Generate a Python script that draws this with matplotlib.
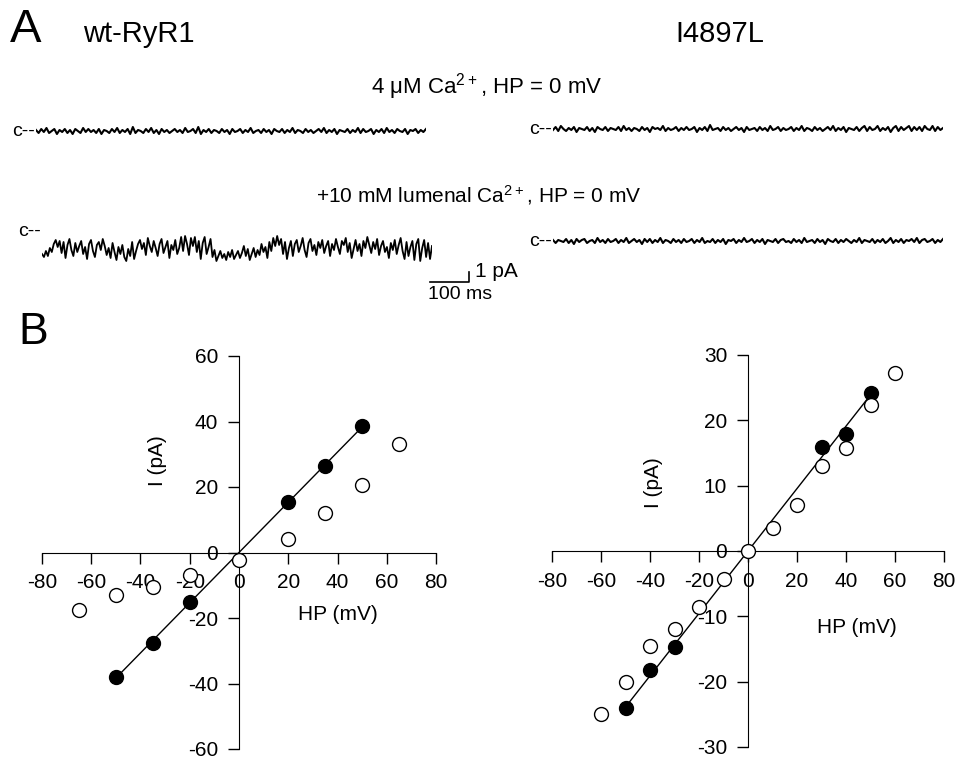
import numpy as np
import matplotlib
matplotlib.use("Agg")
import matplotlib.pyplot as plt

plt.rcParams['font.family'] = ['Liberation Sans', 'DejaVu Sans']
plt.rcParams['mathtext.default'] = 'regular'
plt.rcParams['axes.unicode_minus'] = False

# single-channel traces, current in pA relative to the closed level
trace_ms = 1000.0
wt_4uM = [0.1, -0.2, 0.2, -0.1, 0.3, -0.2, 0.0, 0.2, -0.3, 0.1,
          -0.1, 0.2, -0.2, 0.1, -0.3, 0.2, 0.0, -0.2, 0.3, -0.1,
          0.2, -0.1, 0.1, -0.2, 0.2, -0.3, 0.1, 0.0, -0.2, 0.2,
          -0.1, 0.3, -0.2, 0.1, -0.1, 0.2, -0.3, 0.4, -0.2, 0.1,
          0.0, -0.2, 0.2, -0.1, 0.3, -0.2, 0.1, -0.3, 0.2, -0.1,
          0.1, -0.2, 0.0, 0.2, -0.1, 0.1, -0.2, 0.3, -0.1, 0.0,
          0.2, -0.2, 0.4, -0.3, 0.1, -0.1, 0.2, -0.2, 0.1, 0.0,
          -0.2, 0.2, -0.1, 0.1, -0.3, 0.2, -0.1, 0.0, 0.2, -0.2,
          0.1, -0.1, 0.3, -0.2, 0.0, 0.1, -0.2, 0.2, -0.1, 0.1,
          -0.3, 0.2, 0.0, -0.1, 0.2, -0.2, 0.1, -0.1, 0.3, -0.2,
          0.1, 0.0, -0.2, 0.2, -0.1, 0.1, -0.2, 0.0, 0.2, -0.1,
          0.3, -0.2, 0.1, -0.1, 0.2, -0.3, 0.1, 0.0, -0.1, 0.2,
          -0.2, 0.1, -0.1, 0.3, -0.2, 0.2, -0.1, 0.0, 0.2, -0.3,
          0.1, -0.1, 0.2, -0.2, 0.3, -0.1, 0.1, -0.2, 0.2, 0.0,
          -0.1, 0.2, -0.3, 0.1, 0.0, 0.2, -0.2, 0.1, -0.1, 0.2]
wt_lumenal = [-2.2, -2.5, -1.9, -2.4, -1.6, -2.0, -1.2, -0.8, -1.5, -0.9,
              -2.1, -1.0, -2.6, -1.3, -0.7, -1.8, -2.4, -1.1, -2.0, -1.4,
              -0.9, -2.2, -1.5, -2.7, -1.2, -0.8, -1.9, -2.5, -1.3, -1.0,
              -1.8, -0.7, -1.4, -2.3, -1.6, -2.6, -1.1, -2.0, -2.8, -1.5,
              -2.2, -1.3, -2.5, -2.9, -1.7, -2.4, -1.0, -2.7, -1.9, -1.2,
              -0.8, -1.7, -1.1, -2.3, -0.6, -1.4, -2.0, -0.9, -1.6, -2.4,
              -1.2, -0.7, -2.1, -1.5, -0.9, -2.6, -1.3, -1.8, -0.8, -2.2,
              -1.6, -0.5, -1.9, -0.4, -1.2, -2.3, -0.6, -1.4, -0.5, -2.0,
              -0.9, -2.7, -1.1, -0.5, -2.2, -1.5, -0.7, -2.5, -1.8, -2.9,
              -2.4, -1.9, -2.6, -2.2, -2.8, -2.0, -2.5, -1.8, -2.7, -2.3,
              -1.9, -2.6, -2.1, -1.4, -2.4, -1.7, -2.8, -2.2, -1.6, -2.5,
              -1.8, -2.3, -1.2, -2.0, -1.5, -2.6, -1.0, -1.9, -0.6, -1.4,
              -0.4, -1.3, -0.7, -2.2, -1.0, -2.7, -1.6, -0.9, -2.4, -1.2,
              -0.8, -2.0, -1.4, -0.6, -1.8, -2.5, -1.1, -0.7, -1.9, -1.3,
              -2.3, -1.0, -1.6, -0.8, -2.1, -1.4, -0.9, -2.4, -1.2, -1.8,
              -0.7, -1.5, -2.2, -0.9, -1.3, -0.6, -2.0, -1.1, -2.6, -1.7,
              -0.8, -1.9, -1.2, -2.4, -0.9, -1.6, -0.5, -1.3, -2.1, -1.0,
              -1.7, -0.7, -2.3, -1.4, -0.9, -2.0, -1.5, -2.6, -1.1, -1.8,
              -0.8, -2.2, -1.3, -0.6, -1.9, -2.7, -1.0, -2.4, -1.5, -0.9,
              -2.8, -1.2, -0.7, -2.9, -1.6, -0.8, -2.5, -1.1, -2.7, -1.4]
mut_4uM = [-0.1, 0.2, -0.2, 0.3, 0.0, -0.2, 0.1, -0.1, 0.2, -0.3,
           0.1, 0.0, -0.1, 0.2, -0.2, 0.1, -0.3, 0.2, 0.0, -0.1,
           0.2, -0.2, 0.1, 0.0, -0.1, 0.2, -0.2, 0.3, -0.1, 0.1,
           -0.2, 0.1, 0.0, -0.2, 0.2, -0.1, 0.1, -0.3, 0.2, 0.0,
           0.1, -0.1, 0.3, -0.2, 0.1, -0.1, 0.0, 0.2, -0.2, 0.1,
           -0.1, 0.2, -0.1, 0.0, 0.2, -0.3, 0.1, -0.1, 0.2, -0.2,
           0.4, -0.1, 0.0, 0.1, -0.2, 0.2, -0.1, 0.1, -0.2, 0.0,
           0.2, -0.1, 0.1, -0.3, 0.2, -0.1, 0.0, 0.1, -0.2, 0.2,
           -0.1, 0.1, -0.2, 0.3, -0.1, 0.0, 0.2, -0.2, 0.1, -0.1,
           0.0, 0.2, -0.2, 0.1, -0.1, 0.3, -0.2, 0.1, 0.0, -0.2,
           0.2, -0.1, 0.1, -0.2, 0.0, 0.2, -0.1, 0.3, -0.2, 0.1,
           -0.1, 0.2, -0.3, 0.1, 0.0, -0.1, 0.2, -0.2, 0.1, 0.3,
           -0.2, 0.2, -0.1, 0.0, 0.3, -0.2, 0.1, -0.1, 0.2, -0.3,
           0.1, 0.3, -0.2, 0.2, -0.1, 0.1, 0.3, -0.2, 0.2, -0.1,
           0.2, -0.2, 0.3, 0.0, -0.1, 0.3, -0.2, 0.2, -0.1, 0.1]
mut_lumenal = [0.1, -0.2, 0.1, 0.0, -0.1, 0.2, -0.2, 0.1, -0.3, 0.2,
               -0.1, 0.1, 0.2, -0.2, 0.0, 0.1, -0.2, 0.3, -0.1, 0.1,
               -0.2, 0.2, -0.1, 0.0, 0.2, -0.2, 0.1, -0.1, 0.3, -0.2,
               0.0, 0.2, -0.1, 0.1, -0.3, 0.2, -0.1, 0.2, -0.2, 0.1,
               -0.1, 0.3, -0.2, 0.1, 0.0, -0.2, 0.2, -0.1, 0.1, -0.2,
               0.2, -0.1, 0.0, 0.2, -0.2, 0.1, -0.1, 0.3, -0.2, 0.0,
               -0.1, 0.2, -0.2, 0.1, -0.1, 0.2, -0.3, 0.1, 0.0, 0.2,
               -0.2, 0.1, -0.1, 0.3, -0.1, 0.0, 0.2, -0.2, 0.1, -0.1,
               0.2, -0.3, 0.1, 0.0, -0.1, 0.2, -0.2, 0.1, 0.2, -0.1,
               0.0, -0.2, 0.2, -0.1, 0.1, -0.2, 0.3, -0.1, 0.0, 0.1,
               -0.2, 0.2, -0.1, 0.1, -0.3, 0.2, 0.0, -0.1, 0.2, -0.2,
               0.1, -0.1, 0.2, 0.0, -0.2, 0.1, -0.1, 0.3, -0.2, 0.1,
               0.0, -0.1, 0.2, -0.2, 0.1, -0.1, 0.2, -0.2, 0.0, 0.3,
               -0.2, 0.1, -0.1, 0.2, -0.2, 0.1, 0.0, 0.2, -0.1, 0.3,
               -0.2, 0.1, 0.2, -0.1, 0.0, 0.2, -0.2, 0.1, -0.1, 0.2]

# I-V data: filled = 4 uM Ca, open = +10 mM lumenal Ca
wt_hp_filled = [-50, -35, -20, 20, 35, 50]
wt_i_filled = [-38.0, -27.5, -15.0, 15.5, 26.5, 38.5]
wt_hp_open = [-65, -50, -35, -20, 0, 20, 35, 50, 65]
wt_i_open = [-17.7, -13.0, -10.4, -7.0, -2.2, 4.2, 12.2, 20.7, 33.2]

mut_hp_filled = [-50, -40, -30, 30, 40, 50]
mut_i_filled = [-24.1, -18.2, -14.7, 15.9, 17.9, 24.2]
mut_hp_open = [-60, -50, -40, -30, -20, -10, 0, 10, 20, 30, 40, 50, 60]
mut_i_open = [-25.0, -20.1, -14.6, -12.0, -8.6, -4.3, 0.0, 3.5, 7.0, 13.0, 15.8, 22.3, 27.2]

W, H = 958, 758
fig = plt.figure(figsize=(W / 100, H / 100), dpi=100)


def px_axes(x0, y0, w, h):
    return fig.add_axes([x0 / W, 1 - (y0 + h) / H, w / W, h / H])


def trace_axes(x0, y_closed, lo, hi, values, lw):
    # 10 px per pA, 390 px per second
    ax = px_axes(x0, y_closed - hi * 10, 390, (hi - lo) * 10)
    t = np.arange(len(values)) * trace_ms / (len(values) - 1)
    ax.plot(t, values, color='black', lw=lw)
    ax.set_xlim(0, trace_ms)
    ax.set_ylim(lo, hi)
    ax.axis('off')
    ax.text(-4, 0, 'c--', ha='right', va='center', fontsize=14)
    return ax


trace_axes(36, 131, -3, 3, wt_4uM, 1.5)
ax_scale = trace_axes(42, 232, -7, 1, wt_lumenal, 1.3)
trace_axes(553, 129, -3, 3, mut_4uM, 1.5)
trace_axes(553, 241, -3, 3, mut_lumenal, 1.5)

# scale bar: 100 ms, 1 pA
ax_scale.plot([995, 1095, 1095], [-5, -5, -4], color='black', lw=1.2, clip_on=False)
ax_scale.text(1110, -4.0, '1 pA', ha='left', va='center', fontsize=15)
ax_scale.text(990, -6.3, '100 ms', ha='left', va='center', fontsize=14)

fig.text(10 / W, 1 - 30 / H, 'A', fontsize=34, va='center', ha='left')
fig.text(83 / W, 1 - 34 / H, 'wt-RyR1', fontsize=21, va='center', ha='left')
fig.text(720 / W, 1 - 34 / H, 'I4897L', fontsize=21, va='center', ha='center')
fig.text(487 / W, 1 - 87 / H, r'4 μM Ca$^{2+}$, HP = 0 mV', fontsize=16,
         va='center', ha='center')
fig.text(479 / W, 1 - 195 / H, r'+10 mM lumenal Ca$^{2+}$, HP = 0 mV', fontsize=15,
         va='center', ha='center')
fig.text(18 / W, 1 - 333 / H, 'B', fontsize=32, va='center', ha='left')


def iv_panel(ax, hp_f, i_f, hp_o, i_o, ymax, ystep, ylab_pos, xlab_pos):
    slope = np.sum(np.array(hp_f) * np.array(i_f)) / np.sum(np.array(hp_f) ** 2)
    xfit = np.array([-50, 50])
    ax.plot(xfit, slope * xfit, color='black', lw=1, zorder=2)
    ax.plot(hp_f, i_f, 'o', ms=10, mfc='black', mec='black', zorder=3, clip_on=False)
    ax.plot(hp_o, i_o, 'o', ms=10, mfc='white', mec='black', mew=1, zorder=4,
            clip_on=False)
    ax.set_xlim(-80, 80)
    ax.set_ylim(-ymax, ymax)
    ax.set_xticks(np.arange(-80, 81, 20))
    ax.set_yticks(np.arange(-ymax, ymax + 1, ystep))
    ax.spines['left'].set_position('zero')
    ax.spines['bottom'].set_position('zero')
    ax.spines['top'].set_visible(False)
    ax.spines['right'].set_visible(False)
    ax.tick_params(direction='out', length=8, width=1, labelsize=15, pad=7)
    ax.patch.set_visible(False)
    ax.text(*ylab_pos, 'I (pA)', rotation=90, ha='center', va='center',
            fontsize=15, transform=ax.transAxes)
    ax.text(*xlab_pos, 'HP (mV)', ha='center', va='center', fontsize=15,
            transform=ax.transAxes)


ax1 = px_axes(42, 356, 394, 393)
iv_panel(ax1, wt_hp_filled, wt_i_filled, wt_hp_open, wt_i_open, 60, 20,
         (0.292, 0.733), (0.751, 0.341))
ax2 = px_axes(552, 355, 392, 392)
iv_panel(ax2, mut_hp_filled, mut_i_filled, mut_hp_open, mut_i_open, 30, 10,
         (0.259, 0.675), (0.777, 0.306))

fig.savefig('out.png', dpi=100)
